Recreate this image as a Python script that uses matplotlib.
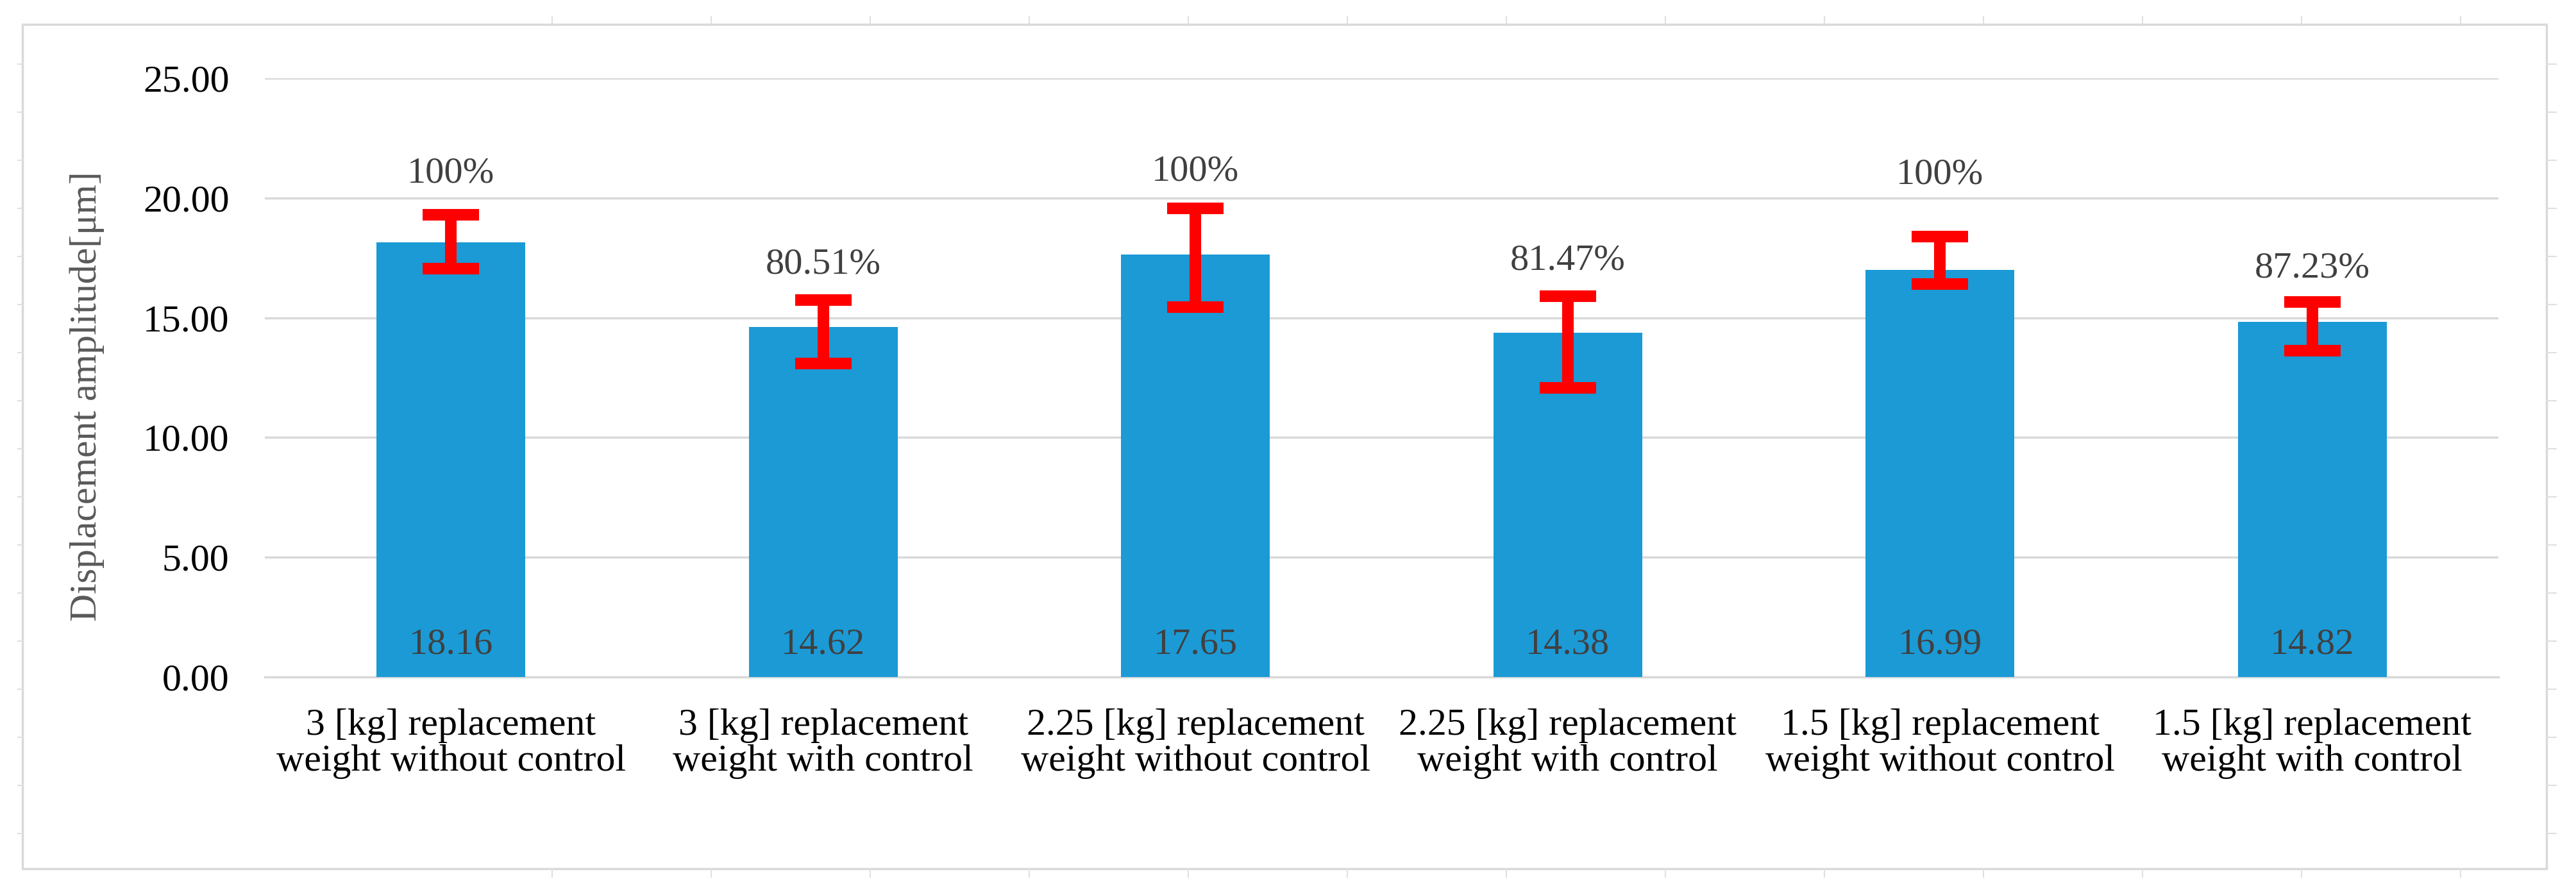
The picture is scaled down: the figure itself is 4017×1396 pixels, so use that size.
import numpy as np
import matplotlib.pyplot as plt
from matplotlib.lines import Line2D
from matplotlib.patches import Rectangle
from matplotlib.ticker import FormatStrFormatter

plt.rcParams['font.family'] = ['Liberation Serif', 'DejaVu Serif']

# ---- data ----
categories = [
    "3 [kg] replacement\nweight without control",
    "3 [kg] replacement\nweight with control",
    "2.25 [kg] replacement\nweight without control",
    "2.25 [kg] replacement\nweight with control",
    "1.5 [kg] replacement\nweight without control",
    "1.5 [kg] replacement\nweight with control",
]
amplitude = [18.16, 14.62, 17.65, 14.38, 16.99, 14.82]
err_low = [17.05, 13.09, 15.44, 12.07, 16.42, 13.62]
err_high = [19.30, 15.74, 19.57, 15.91, 18.39, 15.67]
ratio_labels = ["100%", "80.51%", "100%", "81.47%", "100%", "87.23%"]

# baseline height of the percentage labels (they were placed by hand)
ratio_label_y = [20.64, 16.84, 20.72, 17.02, 20.61, 16.68]

W, H = 4017, 1396
fig = plt.figure(figsize=(W / 100, H / 100), dpi=100)
ax = fig.add_axes([413 / W, 1 - 1056 / H, (3896 - 413) / W, (1056 - 122) / H])

x = np.arange(len(categories))
amp = np.array(amplitude)
ax.bar(x, amp, width=0.4, color='#1b9ad6', zorder=2)
ax.errorbar(x, amp, yerr=[amp - np.array(err_low), np.array(err_high) - amp],
            fmt='none', ecolor='#ff0000', elinewidth=13, capsize=32,
            capthick=13, zorder=3)

ax.set_xlim(-0.5, 5.5)
ax.set_ylim(0, 25)
ax.set_yticks(np.arange(0, 26, 5))
ax.yaxis.set_major_formatter(FormatStrFormatter('%.2f'))
ax.set_xticks(x)
ax.set_xticklabels(categories, linespacing=1.05)
ax.tick_params(axis='both', length=0, labelsize=43, colors='black')
ax.tick_params(axis='y', pad=40)
ax.tick_params(axis='x', pad=35)
ax.grid(axis='y', color='#d9d9d9', lw=2.5)
ax.set_axisbelow(True)
ax.axhline(0, color='#d9d9d9', lw=2.5, zorder=1, clip_on=False)
for s in ax.spines.values():
    s.set_visible(False)

ax.set_ylabel("Displacement amplitude[μm]", fontsize=43, color='#595959')
ax.yaxis.set_label_coords(-0.0718, 0.469)

# value labels inside bars, percentage labels above
for i, v in enumerate(amplitude):
    ax.annotate(f"{v:.2f}", (i, 0), xytext=(0, 26), textcoords='offset points',
                ha='center', va='baseline', fontsize=42, color='#404040')
for i, (t, yy) in enumerate(zip(ratio_labels, ratio_label_y)):
    ax.text(i, yy, t, ha='center', va='baseline', fontsize=42, color='#404040')

# chart frame and the faint sheet grid stubs around it
fig.patches.append(Rectangle((35 / W, 1 - 1355 / H), (3971 - 35) / W, (1355 - 38) / H,
                             transform=fig.transFigure, fill=False,
                             ec='#d9d9d9', lw=2.5))
for k in range(17):
    yy = 1 - (100 + 75 * k) / H
    fig.add_artist(Line2D([28 / W, 35 / W], [yy, yy], color='#e0e0e0', lw=1.5))
    fig.add_artist(Line2D([3971 / W, 3986 / W], [yy, yy], color='#e0e0e0', lw=1.5))
for k in range(13):
    xx = (861 + 248 * k) / W
    fig.add_artist(Line2D([xx, xx], [1 - 38 / H, 1 - 26 / H], color='#e0e0e0', lw=1.5))
    fig.add_artist(Line2D([xx, xx], [1 - 1355 / H, 1 - 1368 / H], color='#e0e0e0', lw=1.5))

fig.savefig('out.png', dpi=100)
